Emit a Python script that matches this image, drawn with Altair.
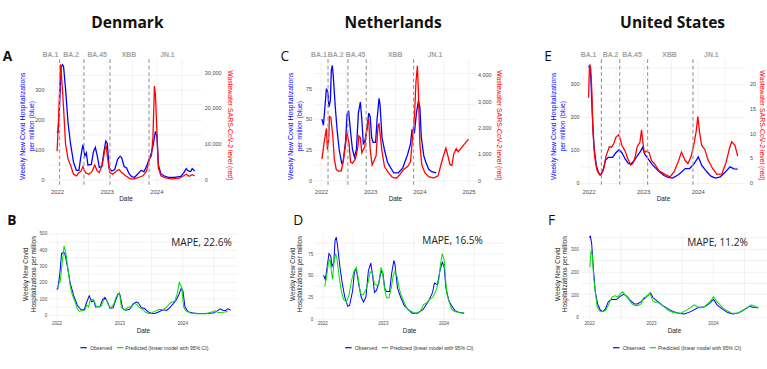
import altair as alt
import pandas as pd

VARIANTS = ["BA.1", "BA.2", "BA.45", "XBB", "JN.1"]

# ---------------- Denmark ----------------
dk_hosp_t = [2022.00, 2022.02, 2022.05, 2022.08, 2022.11, 2022.13, 2022.17, 2022.22, 2022.27, 2022.33,
             2022.39, 2022.44, 2022.48, 2022.52, 2022.56, 2022.59, 2022.62, 2022.69, 2022.73, 2022.77,
             2022.81, 2022.85, 2022.90, 2022.94, 2022.98, 2023.01, 2023.05, 2023.10, 2023.16, 2023.22,
             2023.27, 2023.30, 2023.35, 2023.40, 2023.45, 2023.50, 2023.56, 2023.62, 2023.69, 2023.75,
             2023.80, 2023.86, 2023.90, 2023.94, 2023.98, 2024.01, 2024.04, 2024.09, 2024.15, 2024.24,
             2024.36, 2024.49, 2024.55, 2024.60, 2024.64, 2024.69, 2024.72, 2024.77]
dk_hosp = [155, 160, 242, 375, 383, 377, 303, 190, 120, 58,
           30, 30, 78, 116, 78, 89, 48, 50, 91, 107,
           78, 40, 43, 89, 128, 121, 38, 28, 33, 68,
           77, 73, 43, 38, 19, 9, 7, 17, 30, 26,
           43, 70, 89, 119, 160, 145, 48, 19, 12, 7,
           7, 10, 22, 36, 28, 26, 36, 28]
dk_ww_t = [2022.00, 2022.02, 2022.05, 2022.07, 2022.09, 2022.13, 2022.17, 2022.22, 2022.27, 2022.33,
           2022.39, 2022.44, 2022.48, 2022.52, 2022.57, 2022.64, 2022.70, 2022.76, 2022.81, 2022.85,
           2022.91, 2022.96, 2022.99, 2023.02, 2023.06, 2023.12, 2023.19, 2023.25, 2023.30, 2023.38,
           2023.47, 2023.56, 2023.65, 2023.73, 2023.80, 2023.86, 2023.90, 2023.93, 2023.96, 2023.98,
           2024.01, 2024.04, 2024.09, 2024.18, 2024.30, 2024.46, 2024.55, 2024.60, 2024.66, 2024.72,
           2024.77]
dk_ww = [7900, 13500, 24600, 32300, 28900, 20300, 10000, 5750, 4000, 1450,
         1000, 1900, 2300, 3600, 1900, 1450, 2150, 4000, 2300, 1900,
         4000, 8300, 9200, 5750, 1900, 1450, 2300, 2750, 1900, 1000,
         170, 170, 600, 1000, 2300, 5750, 6600, 11750, 26200, 23800,
         13500, 3200, 1000, 430, 170, 340, 1000, 1450, 860, 1300,
         1000]
dk_pred_t = [2022.02, 2022.06, 2022.09, 2022.12, 2022.15, 2022.18, 2022.22, 2022.25, 2022.29, 2022.33,
             2022.36, 2022.41, 2022.45, 2022.48, 2022.51, 2022.53, 2022.57, 2022.60, 2022.63, 2022.68,
             2022.72, 2022.75, 2022.79, 2022.83, 2022.86, 2022.91, 2022.95, 2023.00, 2023.03, 2023.08,
             2023.14, 2023.19, 2023.24, 2023.27, 2023.31, 2023.36, 2023.42, 2023.48, 2023.55, 2023.63,
             2023.70, 2023.75, 2023.82, 2023.88, 2023.92, 2023.95, 2023.99, 2024.02, 2024.06, 2024.14,
             2024.23, 2024.38, 2024.48, 2024.52, 2024.57, 2024.65, 2024.72]
dk_pred = [178, 206, 318, 421, 375, 281, 169, 122, 84, 37,
           22, 24, 28, 60, 47, 84, 94, 84, 52, 47,
           56, 94, 94, 56, 41, 66, 112, 135, 47, 28,
           47, 47, 71, 64, 47, 34, 13, 6, 19, 32,
           32, 47, 75, 84, 131, 197, 169, 47, 22, 9,
           6, 6, 19, 24, 13, 15, 19]
dk_switch_t = [2022.05, 2022.542, 2023.065, 2023.852]
dk_label_t = [2021.865, 2022.284, 2022.806, 2023.446, 2024.221]

# ---------------- Netherlands ----------------
nl_hosp_t = [2022.02, 2022.05, 2022.08, 2022.11, 2022.14, 2022.16, 2022.19, 2022.21, 2022.23, 2022.25,
             2022.29, 2022.33, 2022.37, 2022.42, 2022.45, 2022.50, 2022.53, 2022.56, 2022.60, 2022.64,
             2022.68, 2022.72, 2022.76, 2022.80, 2022.83, 2022.86, 2022.89, 2022.93, 2022.97, 2023.00,
             2023.03, 2023.06, 2023.11, 2023.14, 2023.18, 2023.20, 2023.24, 2023.29, 2023.35, 2023.42,
             2023.48, 2023.57, 2023.66, 2023.76, 2023.82, 2023.85, 2023.90, 2023.94, 2023.98, 2024.01,
             2024.04, 2024.09, 2024.13, 2024.19, 2024.25, 2024.34]
nl_hosp = [50, 45, 60, 75, 72, 60, 65, 90, 94, 85,
           60, 40, 25, 14, 15, 32, 54, 57, 40, 25,
           19, 25, 55, 64, 50, 30, 32, 40, 55, 52,
           35, 31, 31, 50, 67, 62, 35, 25, 15, 10,
           6, 6, 10, 21, 30, 41, 39, 55, 65, 60,
           35, 20, 15, 9, 7, 6]
nl_ww_t = [2022.02, 2022.06, 2022.09, 2022.11, 2022.13, 2022.16, 2022.17, 2022.20, 2022.24, 2022.27,
           2022.31, 2022.36, 2022.41, 2022.45, 2022.50, 2022.53, 2022.57, 2022.60, 2022.64, 2022.70,
           2022.75, 2022.77, 2022.80, 2022.83, 2022.86, 2022.89, 2022.93, 2022.97, 2023.00, 2023.04,
           2023.07, 2023.12, 2023.16, 2023.18, 2023.20, 2023.24, 2023.29, 2023.37, 2023.45, 2023.53,
           2023.60, 2023.68, 2023.76, 2023.82, 2023.86, 2023.90, 2023.93, 2023.96, 2023.98, 2024.01,
           2024.05, 2024.11, 2024.19, 2024.29, 2024.38, 2024.44, 2024.49, 2024.54, 2024.58, 2024.62,
           2024.66, 2024.70, 2024.75, 2024.79, 2024.84, 2024.92, 2025.00]
nl_ww = [810, 1390, 1740, 1970, 1160, 1620, 2430, 2380, 1680, 810,
         410, 350, 350, 700, 1390, 1800, 1390, 700, 640, 810,
         1270, 1680, 1620, 1040, 1160, 1270, 1970, 2320, 1160, 580,
         700, 930, 2090, 2140, 1800, 1100, 520, 290, 115, 80,
         210, 410, 520, 700, 1620, 2430, 3710, 4350, 3360, 1390,
         580, 290, 140, 80, 170, 600, 930, 1220, 930, 600,
         560, 1000, 1200, 1080, 1200, 1380, 1560]
nl_pred_t = [2022.04, 2022.07, 2022.10, 2022.13, 2022.15, 2022.17, 2022.19, 2022.22, 2022.24, 2022.28,
             2022.31, 2022.35, 2022.40, 2022.44, 2022.48, 2022.52, 2022.56, 2022.59, 2022.63, 2022.67,
             2022.72, 2022.76, 2022.79, 2022.83, 2022.86, 2022.90, 2022.93, 2022.97, 2022.99, 2023.03,
             2023.06, 2023.10, 2023.14, 2023.17, 2023.20, 2023.24, 2023.27, 2023.31, 2023.36, 2023.41,
             2023.47, 2023.54, 2023.62, 2023.67, 2023.72, 2023.77, 2023.82, 2023.87, 2023.92, 2023.95,
             2023.98, 2024.01, 2024.04, 2024.06, 2024.09, 2024.13, 2024.18, 2024.24, 2024.30, 2024.34]
nl_pred = [37, 48, 64, 69, 54, 45, 64, 75, 70, 47,
           33, 22, 19, 27, 43, 54, 59, 47, 29, 27,
           33, 43, 54, 52, 40, 38, 40, 59, 55, 33,
           24, 24, 36, 50, 55, 47, 34, 25, 17, 10,
           8, 6, 8, 16, 18, 22, 24, 31, 43, 63,
           75, 68, 40, 27, 20, 11, 8, 7, 6, 7]
nl_switch_t = [2022.143, 2022.547, 2022.920, 2023.882]
nl_label_t = [2021.957, 2022.298, 2022.702, 2023.509, 2024.318]

# ---------------- United States ----------------
us_hosp_t = [2022.00, 2022.02, 2022.04, 2022.07, 2022.10, 2022.14, 2022.18, 2022.22, 2022.26, 2022.31,
             2022.36, 2022.44, 2022.50, 2022.56, 2022.61, 2022.67, 2022.73, 2022.78, 2022.84, 2022.89,
             2022.95, 2022.99, 2023.03, 2023.09, 2023.17, 2023.29, 2023.38, 2023.46, 2023.54, 2023.65,
             2023.77, 2023.85, 2023.93, 2024.01, 2024.07, 2024.16, 2024.24, 2024.32, 2024.41, 2024.49,
             2024.59, 2024.66, 2024.73]
us_hosp = [350, 355, 322, 202, 109, 54, 31, 24, 35, 68,
           77, 77, 91, 100, 91, 72, 58, 58, 68, 81,
           95, 107, 86, 72, 54, 34, 22, 16, 14, 25,
           43, 43, 57, 78, 53, 34, 20, 14, 18, 30,
           48, 42, 41]
us_ww_t = [2022.00, 2022.01, 2022.02, 2022.04, 2022.06, 2022.08, 2022.11, 2022.15, 2022.20, 2022.23,
           2022.28, 2022.32, 2022.38, 2022.42, 2022.46, 2022.50, 2022.55, 2022.58, 2022.61, 2022.67,
           2022.72, 2022.77, 2022.81, 2022.85, 2022.89, 2022.94, 2022.97, 2022.99, 2023.02, 2023.06,
           2023.11, 2023.15, 2023.21, 2023.29, 2023.40, 2023.49, 2023.57, 2023.65, 2023.70, 2023.77,
           2023.82, 2023.88, 2023.93, 2023.97, 2024.00, 2024.03, 2024.07, 2024.13, 2024.18, 2024.27,
           2024.35, 2024.44, 2024.52, 2024.58, 2024.62, 2024.68, 2024.73]
us_ww = [17.2, 21.5, 23.9, 23.1, 18.5, 10.4, 5.4, 2.7, 1.6, 1.6,
         3.0, 5.4, 7.3, 7.2, 7.9, 9.2, 9.7, 8.9, 7.6, 6.4,
         4.8, 3.6, 3.9, 5.1, 7.3, 8.2, 10.7, 8.5, 6.1, 6.4,
         6.1, 4.5, 3.8, 2.4, 1.7, 1.2, 2.3, 4.5, 6.2, 4.5,
         3.9, 5.4, 7.9, 10.4, 13.4, 10.4, 7.6, 6.7, 4.8, 2.9,
         1.7, 1.8, 4.2, 7.0, 8.3, 7.6, 5.4]
us_pred_t = [2022.01, 2022.03, 2022.05, 2022.07, 2022.10, 2022.13, 2022.17, 2022.22, 2022.27, 2022.32,
             2022.37, 2022.42, 2022.46, 2022.50, 2022.54, 2022.58, 2022.64, 2022.69, 2022.74, 2022.79,
             2022.84, 2022.88, 2022.92, 2022.95, 2022.98, 2023.03, 2023.08, 2023.14, 2023.21, 2023.29,
             2023.36, 2023.48, 2023.60, 2023.70, 2023.78, 2023.85, 2023.95, 2024.01, 2024.07, 2024.17,
             2024.30, 2024.40, 2024.50, 2024.62, 2024.74]
us_pred = [219, 293, 272, 185, 105, 44, 27, 24, 31, 58,
           89, 94, 89, 101, 111, 98, 78, 58, 51, 51,
           58, 85, 89, 98, 105, 71, 64, 62, 45, 28,
           20, 17, 35, 54, 40, 44, 67, 89, 67, 38,
           17, 17, 31, 54, 40]
us_switch_t = [2022.235, 2022.57, 2023.08, 2023.911]
us_label_t = [2022.0, 2022.403, 2022.795, 2023.483, 2024.248]

# ---------------- axis ticks ----------------
years_to_2024 = [2022, 2022.5, 2023, 2023.5, 2024, 2024.5]
years_to_2025 = [2022, 2022.5, 2023, 2023.5, 2024, 2024.5, 2025]
ticks_by_50_350 = [0, 50, 100, 150, 200, 250, 300, 350]
ticks_by_50_500 = [0, 50, 100, 150, 200, 250, 300, 350, 400, 450, 500]
ticks_by_12_5 = [0, 12.5, 25, 37.5, 50, 62.5, 75, 87.5]
dk_ww_ticks = [0, 10000, 20000, 30000]
nl_ww_ticks = [0, 1000, 2000, 3000, 4000]
us_ww_ticks = [0, 5, 10, 15, 20]

TOP_TITLE = ["Weekly New Covid Hospitalizations", "per million (blue)"]
RIGHT_TITLE = "Wastewater SARS-CoV-2 level (red)"
BOTTOM_TITLE = ["Weekly New Covid", "Hospitalizations per million"]

BLUE = "#0000ff"
RED = "#ff0000"
GREEN = "#00e000"
GRID = "#ebebeb"
TICK_TEXT = "#4d4d4d"
AXIS_FONT = "Liberation Sans"
HEAD_FONT = "Open Sans"
OBS = "Observed"
PRED = "Predicted (linear model with 95% CI)"
YEAR_LABELS = "datum.value % 1 == 0 ? format(datum.value, 'd') : ''"


def major_labels(step):
    return f"datum.value % {step} == 0 ? format(datum.value, ',d') : ''"


def series(t, v):
    return pd.DataFrame({"t": t, "v": v})


def date_x(domain, ticks, label_size, label_pad, title_y):
    return alt.X(
        "t:Q",
        scale=alt.Scale(domain=domain, nice=False, zero=False),
        axis=alt.Axis(
            title="Date", values=ticks, labelExpr=YEAR_LABELS,
            labelFontSize=label_size, labelPadding=label_pad, labelFlush=False,
            labelOverlap=False, titleFontSize=7, titleY=title_y, titleBaseline="top",
        ),
    )


def note(text, x, y, size, weight="normal", font=HEAD_FONT, align="left", color="#111111",
         angle=0):
    return alt.Chart(pd.DataFrame({"k": [text]})).mark_text(
        font=font, fontSize=size, fontWeight=weight, align=align,
        baseline="middle", color=color, angle=angle,
    ).encode(x=alt.value(x), y=alt.value(y), text="k:N")


def key_line(x0, y, color):
    return alt.Chart(pd.DataFrame({"k": [0]})).mark_rule(color=color, strokeWidth=1.3).encode(
        x=alt.value(x0), x2=alt.value(x0 + 7), y=alt.value(y))


def spacer(w, h, anchor=False):
    base = alt.Chart(pd.DataFrame({"k": [0]}))
    if anchor:
        mark = base.mark_rect(color="white").encode(
            x=alt.value(0), x2=alt.value(4), y=alt.value(-48), y2=alt.value(-44))
    else:
        mark = base.mark_rect(opacity=0).encode(
            x=alt.value(0), x2=alt.value(1), y=alt.value(0), y2=alt.value(1))
    return mark.properties(width=w, height=h)


def top_panel(w, h, xdom, xticks, hosp_t, hosp, ww_t, ww, ldom, lticks, lstep, lpad, lx,
              rdom, rticks, rpad, rx, switch_t, label_t, letter, letter_x, bold,
              country, country_x):
    x = date_x(xdom, xticks, 6.5, 2, 9.5)
    blue = alt.Chart(series(hosp_t, hosp)).mark_line(color=BLUE, strokeWidth=1.4).encode(
        x=x,
        y=alt.Y("v:Q", scale=alt.Scale(domain=ldom, nice=False, zero=False),
                axis=alt.Axis(title=None, orient="left", values=lticks,
                              labelExpr=major_labels(lstep), labelFontSize=6,
                              labelPadding=lpad, labelOverlap=False)),
    )
    red = alt.Chart(series(ww_t, ww)).mark_line(color=RED, strokeWidth=1.4).encode(
        x=x,
        y=alt.Y("v:Q", scale=alt.Scale(domain=rdom, nice=False, zero=False),
                axis=alt.Axis(title=None, orient="right", values=rticks, format=",d",
                              grid=False, labelFontSize=6, labelPadding=rpad,
                              labelOverlap=False)),
    )
    switches = alt.Chart(pd.DataFrame({"t": switch_t})).mark_rule(
        color="#9c9c9c", strokeDash=[4, 3], strokeWidth=1.3).encode(x=x)
    names = alt.Chart(pd.DataFrame({"t": label_t, "name": VARIANTS})).mark_text(
        font=AXIS_FONT, fontSize=7.5, fontWeight="bold", color="#a3a3a3", baseline="middle",
    ).encode(x=x, y=alt.value(-5), text="name:N")
    texts = [
        note(TOP_TITLE[0], lx[0], 73, 7.5, font=AXIS_FONT, align="center", color=BLUE, angle=270),
        note(TOP_TITLE[1], lx[1], 73, 7.5, font=AXIS_FONT, align="center", color=BLUE, angle=270),
        note(RIGHT_TITLE, rx, 72, 7.5, font=AXIS_FONT, align="center", color=RED, angle=90),
        note(letter, letter_x, -3, 15, "bold" if bold else "normal"),
        note(country, country_x, -39, 17, "bold", align="center"),
    ]
    return alt.layer(blue, red, switches, names, *texts).resolve_scale(
        y="independent").properties(width=w, height=h)


def bottom_panel(w, h, xdom, xticks, hosp_t, hosp, pred_t, pred, ydom, yticks, ystep, ypad,
                 lx, mape, mape_x, mape_y, letter, letter_x, bold, key_x):
    x = date_x(xdom, xticks, 5, 1.5, 8.5)
    y = alt.Y("v:Q", scale=alt.Scale(domain=ydom, nice=False, zero=False),
              axis=alt.Axis(title=None, values=yticks, labelExpr=major_labels(ystep),
                            labelFontSize=5, labelPadding=ypad, labelOverlap=False))
    observed = alt.Chart(series(hosp_t, hosp)).mark_line(color=BLUE, strokeWidth=1.1).encode(x=x, y=y)
    predicted = alt.Chart(series(pred_t, pred)).mark_line(color=GREEN, strokeWidth=1.1).encode(x=x, y=y)
    texts = [
        note(BOTTOM_TITLE[0], lx[0], 45.5, 7, font=AXIS_FONT, align="center", color="#1a1a1a", angle=270),
        note(BOTTOM_TITLE[1], lx[1], 45.5, 7, font=AXIS_FONT, align="center", color="#1a1a1a", angle=270),
        note(mape, mape_x, mape_y, 11, align="right", color="#222222"),
        note(letter, letter_x, -13.5, 15, "bold" if bold else "normal"),
        key_line(key_x, 125.7, BLUE),
        note(OBS, key_x + 10.5, 125.7, 5.6, font=AXIS_FONT, color="#333333"),
        key_line(key_x + 40, 125.7, GREEN),
        note(PRED, key_x + 49, 125.7, 5.6, font=AXIS_FONT, color="#333333"),
    ]
    return alt.layer(observed, predicted, *texts).properties(width=w, height=h)


panel_a = top_panel(166, 139, [2021.847, 2024.910], years_to_2024, dk_hosp_t, dk_hosp,
                    dk_ww_t, dk_ww, [-24.5, 401], ticks_by_50_350, 100, 6, [-29, -19],
                    [-2060, 33720], dk_ww_ticks, 3, 196.5, dk_switch_t, dk_label_t,
                    "A", -51, True, "Denmark", 85)
panel_c = top_panel(176, 139, [2021.864, 2025.143], years_to_2025, nl_hosp_t, nl_hosp,
                    nl_ww_t, nl_ww, [-5.25, 99], ticks_by_12_5, 25, 3, [-25, -15],
                    [-244, 4594], nl_ww_ticks, 2, 201, nl_switch_t, nl_label_t,
                    "C", -37, False, "Netherlands", 86)
panel_e = top_panel(179, 139, [2021.861, 2024.864], years_to_2024, us_hosp_t, us_hosp,
                    us_ww_t, us_ww, [-12, 374], ticks_by_50_350, 100, 2, [-29.5, -19.5],
                    [-0.8, 25.0], us_ww_ticks, 5, 197, us_switch_t, us_label_t,
                    "E", -40, False, "United States", 100)

panel_b = bottom_panel(204, 95, [2021.888, 2024.859], years_to_2024, dk_hosp_t, dk_hosp,
                       dk_pred_t, dk_pred, [-29.8, 504], ticks_by_50_500, 100, 3, [-25, -17],
                       "MAPE, 22.6%", 199, 12, "B", -46, True, 33.7)
panel_d = bottom_panel(207, 95, [2021.868, 2024.998], years_to_2024, nl_hosp_t, nl_hosp,
                       nl_pred_t, nl_pred, [-1.4, 99.4], ticks_by_12_5, 25, 1.5, [-23, -15.5],
                       "MAPE, 16.5%", 184, 10, "D", -23, False, 33.7)
panel_f = bottom_panel(203, 95, [2021.867, 2024.874], years_to_2024, us_hosp_t, us_hosp,
                       us_pred_t, us_pred, [-10.9, 371.7], ticks_by_50_350, 100, 3, [-24.5, -17.5],
                       "MAPE, 11.2%", 182, 12, "F", -36, False, 35)

cells = [
    spacer(54, 139, anchor=True), panel_a, spacer(85, 139), panel_c, spacer(84, 139), panel_e,
    spacer(1, 50), spacer(1, 50), spacer(1, 50), spacer(1, 50), spacer(1, 50), spacer(1, 50),
    spacer(49, 95), panel_b, spacer(50, 95), panel_d, spacer(51, 95), panel_f,
]

chart = alt.concat(
    *cells, columns=6, spacing=0, bounds="flush", align="none"
).properties(
    padding=0, background="white"
).configure_view(
    stroke=None
).configure_axis(
    domain=False, ticks=False, tickSize=0, gridColor=GRID, gridWidth=0.7,
    labelColor=TICK_TEXT, labelFont=AXIS_FONT, titleFont=AXIS_FONT,
    titleFontWeight="normal", titleColor="#1a1a1a",
)

chart.save("out.html", embed_options={"renderer": "svg", "actions": False})
